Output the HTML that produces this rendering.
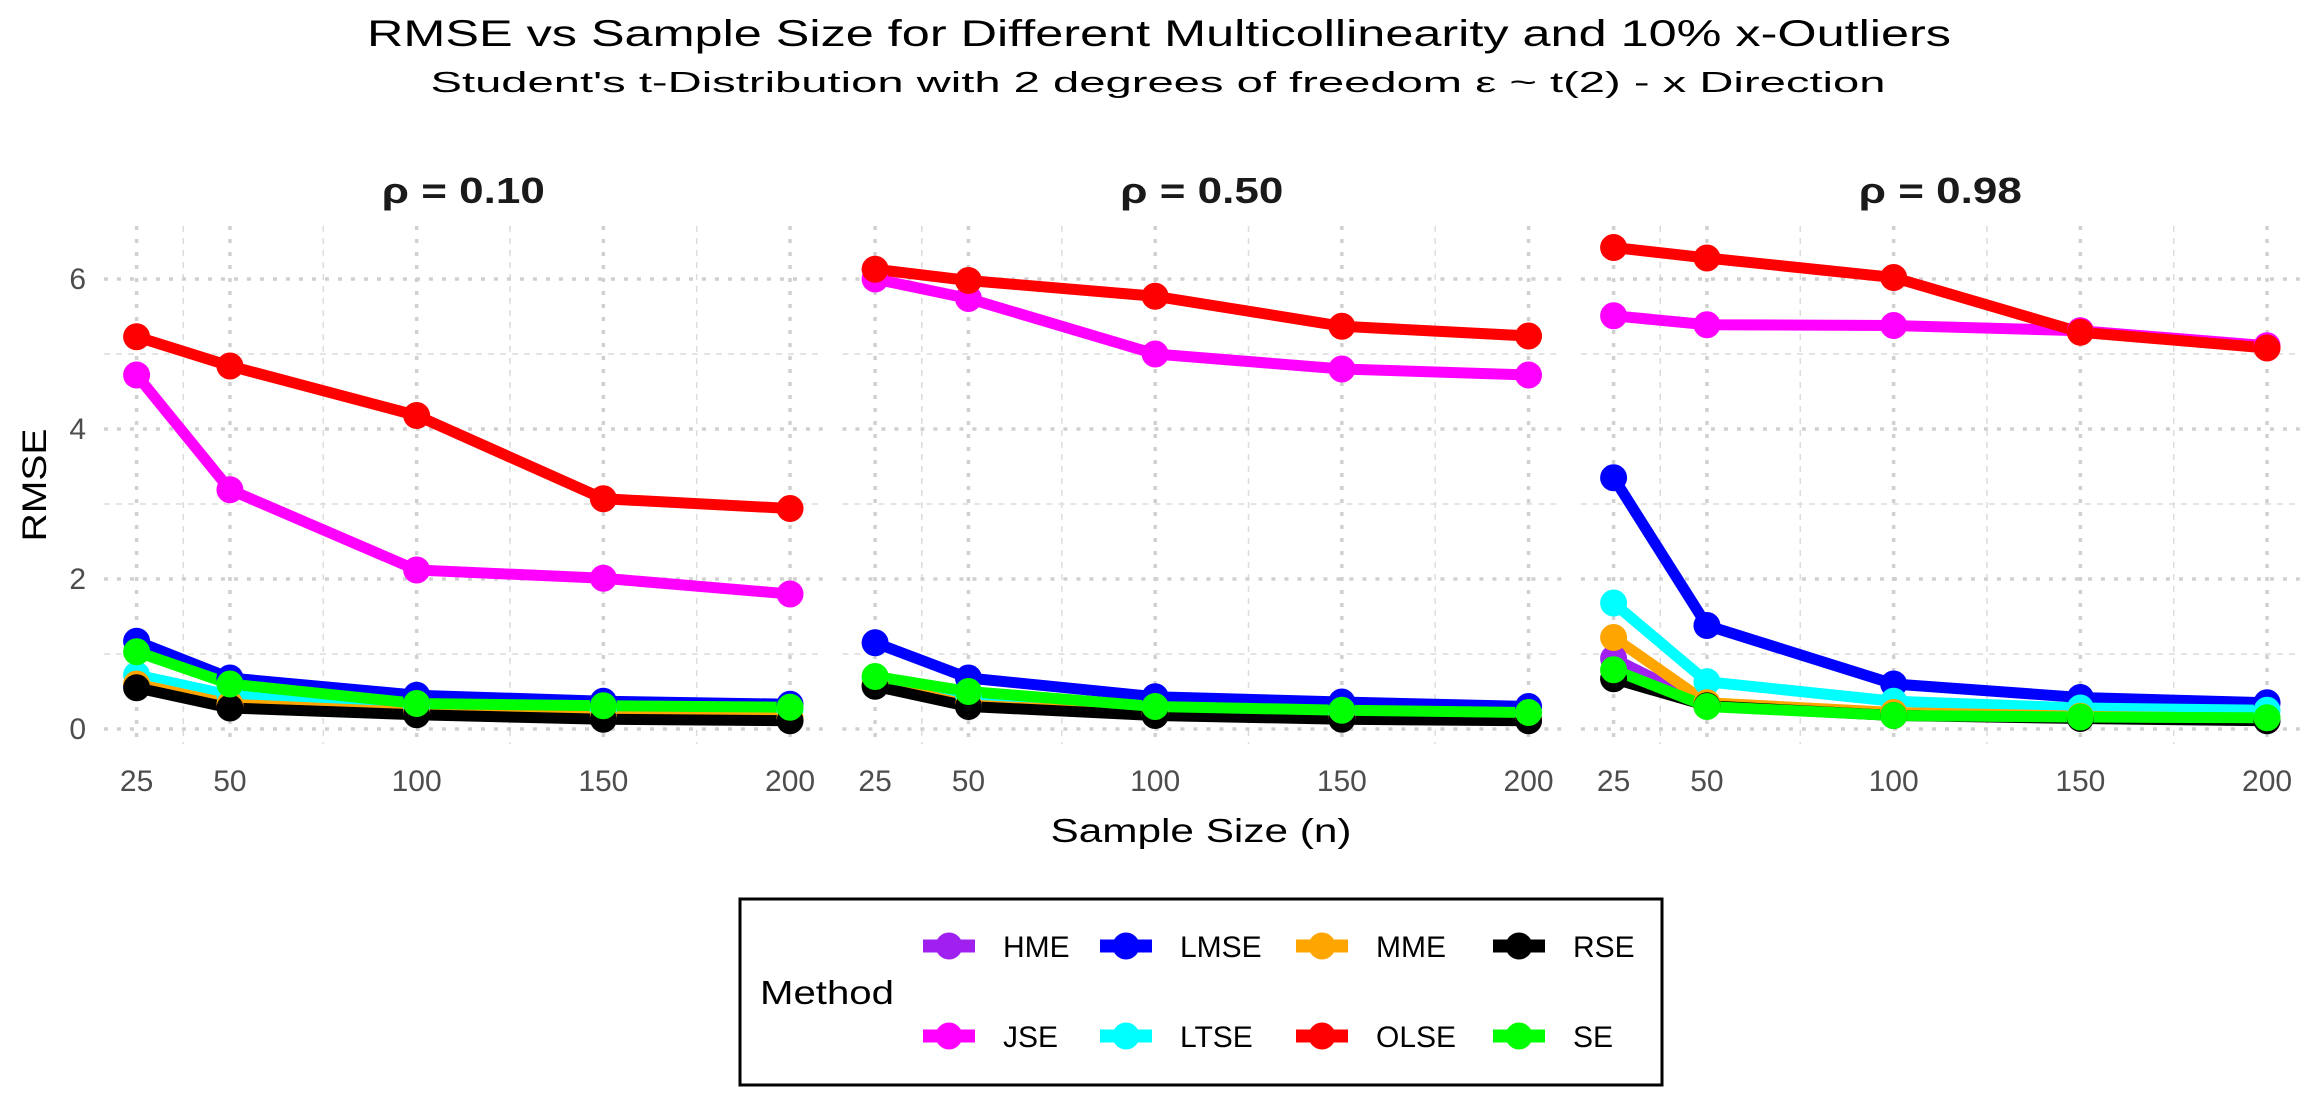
<!DOCTYPE html>
<html><head><meta charset="utf-8"><style>
html,body{margin:0;padding:0;background:#fff;}
svg{display:block;font-family:"Liberation Sans",sans-serif;}
</style></head><body>
<svg id="chart" width="2317" height="1104" viewBox="0 0 2317 1104" xmlns="http://www.w3.org/2000/svg">
<text x="1159" y="46" text-anchor="middle" font-size="37" textLength="1584" lengthAdjust="spacingAndGlyphs" fill="#000">RMSE vs Sample Size for Different Multicollinearity and 10% x-Outliers</text>
<text x="1158" y="92" text-anchor="middle" font-size="29" textLength="1455" lengthAdjust="spacingAndGlyphs" fill="#000">Student's t-Distribution with 2 degrees of freedom ε ~ t(2) - x Direction</text>
<g id="panels"></g>
<text x="1201" y="842" text-anchor="middle" font-size="33" textLength="301" lengthAdjust="spacingAndGlyphs" fill="#000">Sample Size (n)</text>
<text transform="translate(46,485) rotate(-90)" text-anchor="middle" font-size="34" textLength="113" lengthAdjust="spacingAndGlyphs" fill="#000">RMSE</text>
<g>
<rect x="740" y="899" width="922" height="186" fill="#fff" stroke="#000" stroke-width="3"/>
<text x="760" y="1004" font-size="33" textLength="134" lengthAdjust="spacingAndGlyphs" fill="#000">Method</text>
<g id="legend-items"></g>
</g>
</svg>
<script>
const facets = ["ρ = 0.10", "ρ = 0.50", "ρ = 0.98"];
const sampleSizes = [25, 50, 100, 150, 200];
const methods = ["HME","JSE","LMSE","LTSE","MME","OLSE","RSE","SE"];
const colors = ["#a020f0","#ff00ff","#0000ff","#00ffff","#ffa500","#ff0000","#000000","#00ff00"];
const yTicks = [0, 2, 4, 6];
const yMinor = [1, 3, 5];
const xMinor = [37.5, 75, 125, 175];
const p1HME  = [0.58,0.30,0.20,0.15,0.13];
const p1JSE  = [4.72,3.19,2.12,2.01,1.80];
const p1LMSE = [1.17,0.68,0.45,0.37,0.33];
const p1LTSE = [0.72,0.45,0.28,0.25,0.25];
const p1MME  = [0.60,0.33,0.22,0.17,0.15];
const p1OLSE = [5.23,4.84,4.18,3.07,2.94];
const p1RSE  = [0.55,0.28,0.19,0.13,0.11];
const p1SE   = [1.03,0.60,0.34,0.31,0.29];
const p2HME  = [0.58,0.31,0.19,0.14,0.12];
const p2JSE  = [6.00,5.74,5.00,4.80,4.72];
const p2LMSE = [1.15,0.68,0.43,0.36,0.30];
const p2LTSE = [0.68,0.45,0.28,0.22,0.20];
const p2MME  = [0.60,0.32,0.20,0.15,0.13];
const p2OLSE = [6.13,5.98,5.77,5.37,5.24];
const p2RSE  = [0.57,0.30,0.18,0.13,0.11];
const p2SE   = [0.70,0.50,0.30,0.25,0.22];
const p3HME  = [0.94,0.32,0.20,0.15,0.13];
const p3JSE  = [5.51,5.39,5.38,5.31,5.11];
const p3LMSE = [3.35,1.38,0.60,0.42,0.35];
const p3LTSE = [1.68,0.63,0.37,0.28,0.25];
const p3MME  = [1.22,0.35,0.22,0.17,0.14];
const p3OLSE = [6.42,6.28,6.02,5.29,5.08];
const p3RSE  = [0.67,0.31,0.18,0.14,0.11];
const p3SE   = [0.79,0.30,0.18,0.16,0.15];
const panelData = [
  [p1HME,p1JSE,p1LMSE,p1LTSE,p1MME,p1OLSE,p1RSE,p1SE],
  [p2HME,p2JSE,p2LMSE,p2LTSE,p2MME,p2OLSE,p2RSE,p2SE],
  [p3HME,p3JSE,p3LMSE,p3LTSE,p3MME,p3OLSE,p3RSE,p3SE]
];
const NS = "http://www.w3.org/2000/svg";
function mk(tag, attrs, parent){const e=document.createElementNS(NS,tag);for(const k in attrs)e.setAttribute(k,attrs[k]);parent.appendChild(e);return e;}
const panelsG = document.getElementById("panels");
const pTop=226, pBot=744;
function yScale(v){return 729 - v*75;}
facets.forEach((f,pi)=>{
  const off = pi*738.5;
  const xScale = n => 136.6 + off + (n-25)*3.734;
  const left = xScale(16.25), right = xScale(208.75);
  const g = mk("g",{},panelsG);
  
  
  xMinor.forEach(n=>{const l=mk("line",{x1:xScale(n),x2:xScale(n),y1:pTop,y2:pBot,stroke:"#dcdcdc","stroke-width":1.5,"stroke-dasharray":"6 6"},g);
    });
  yMinor.forEach(v=>{const l=mk("line",{x1:left,x2:right,y1:yScale(v),y2:yScale(v),stroke:"#dcdcdc","stroke-width":1.5,"stroke-dasharray":"6 6"},g);
    });
  sampleSizes.forEach(n=>{const l=mk("line",{x1:xScale(n),x2:xScale(n),y1:pTop,y2:pBot,stroke:"#d0d0d0","stroke-width":3.5,"stroke-dasharray":"4 9"},g);
    
    const t=mk("text",{x:xScale(n),y:791,"text-anchor":"middle","font-size":30,fill:"#4d4d4d"},g);t.textContent=n;
    });
  yTicks.forEach(v=>{const l=mk("line",{x1:left,x2:right,y1:yScale(v),y2:yScale(v),stroke:"#d0d0d0","stroke-width":3.5,"stroke-dasharray":"4 9"},g);
    
    if(pi===0){const t=mk("text",{x:86,y:yScale(v)+10,"text-anchor":"end","font-size":30,fill:"#4d4d4d"},g);t.textContent=v;
      }});
  const ft=mk("text",{x:(left+right)/2,y:203,"text-anchor":"middle","font-size":36,"font-weight":"bold",fill:"#1a1a1a",textLength:163,lengthAdjust:"spacingAndGlyphs"},g);
  ft.textContent=f;
  
  
  const series = panelData[pi];
  series.forEach((vals,mi)=>{
    const pts = vals.map((v,i)=>xScale(sampleSizes[i])+","+yScale(v)).join(" ");
    const pl=mk("polyline",{points:pts,fill:"none",stroke:colors[mi],"stroke-width":11,"stroke-linejoin":"round"},g);
    
    
  });
  series.forEach((vals,mi)=>{
    vals.forEach((v,i)=>{
      const c=mk("circle",{cx:xScale(sampleSizes[i]),cy:yScale(v),r:13.5,fill:colors[mi]},g);
      
      
    });
  });
});
const lg = document.getElementById("legend-items");
const keyX=[949,1126,1322,1519], rowY=[946,1036];
methods.forEach((m,i)=>{
  const col = Math.floor(i/2), row = i%2;
  const g=mk("g",{},lg);
  
  
  mk("line",{x1:keyX[col]-26,x2:keyX[col]+26,y1:rowY[row],y2:rowY[row],stroke:colors[i],"stroke-width":13},g);
  mk("circle",{cx:keyX[col],cy:rowY[row],r:13.5,fill:colors[i]},g);
  const t=mk("text",{x:keyX[col]+54,y:rowY[row]+11,"font-size":30,fill:"#000"},g);
  t.textContent=m;
});
</script>
</body></html>
